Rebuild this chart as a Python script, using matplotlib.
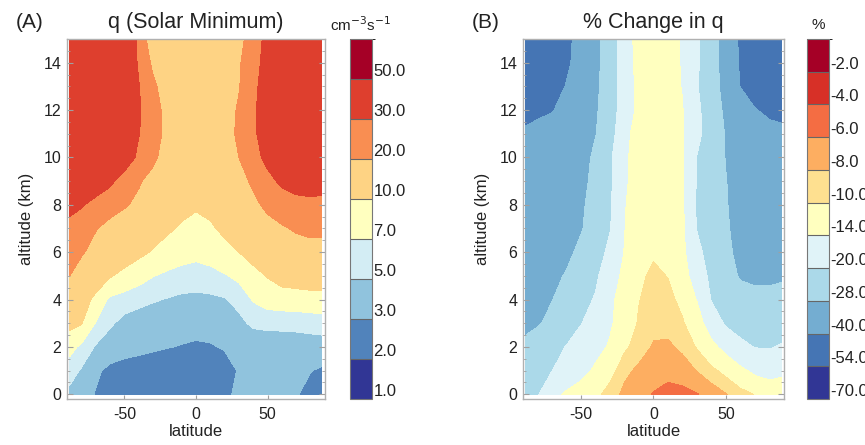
import numpy as np
import matplotlib.pyplot as plt
from matplotlib.colors import ListedColormap, BoundaryNorm
from matplotlib.ticker import MultipleLocator

plt.rcParams['font.family'] = ['Liberation Sans', 'DejaVu Sans']
plt.rcParams['axes.unicode_minus'] = False

# grid: latitude (deg) and altitude (km)
lat = [-88, -80, -70, -60, -50, -40, -30, -20, -10, 0, 10, 20, 30, 40, 50, 60, 70, 80, 88]
alt = [0, 1, 2, 3, 4, 5, 6, 7, 8, 9, 10, 11, 12, 13, 14, 15]

# ionization rate q at solar minimum (cm^-3 s^-1), rows from 0 km upward
q_min = [
    [4.5, 3.8, 2.9, 2.5, 2.3, 2.2, 2.15, 2.1, 2.1, 2.15, 2.3, 2.8, 3.2, 3.3, 3.3, 3.2, 3.1, 2.6, 2.4],
    [5.8, 4.8, 3.3, 2.6, 2.4, 2.3, 2.25, 2.2, 2.2, 2.2, 2.3, 2.5, 3.1, 3.4, 3.4, 3.4, 3.3, 3.05, 2.8],
    [7.8, 6.5, 4.8, 4.0, 3.6, 3.4, 3.2, 3.05, 2.95, 2.85, 2.9, 3.1, 3.4, 3.6, 3.7, 3.8, 3.8, 3.9, 4.0],
    [11, 10.2, 6.9, 5.3, 4.4, 4.0, 3.8, 3.6, 3.4, 3.4, 3.5, 3.8, 4.5, 5.4, 5.6, 5.6, 5.7, 5.9, 6],
    [13, 12, 9, 6.5, 6, 5.6, 5.2, 4.9, 4.6, 4.5, 4.6, 4.85, 5.6, 7.2, 8, 8.3, 8.3, 8.4, 8.5],
    [20, 16, 12.5, 10.3, 9, 8, 7.1, 6.5, 6.2, 6.1, 6.3, 6.8, 7.6, 8.8, 10.2, 11.5, 12, 12.5, 12.5],
    [23, 21, 17, 14, 12, 10.8, 9.7, 8.8, 8, 7.6, 8, 8.8, 10, 11.5, 13.5, 15, 16, 17, 17],
    [27, 24, 20.5, 17, 15, 13, 11.5, 10.5, 9.6, 8.8, 9.5, 10.8, 13, 15, 17, 19, 21, 22, 22],
    [33, 31, 27, 24, 21, 18, 15, 12.5, 11, 10.5, 11, 12.5, 15, 18, 22, 25, 27, 28, 28],
    [38, 38, 36, 32, 26, 21, 17, 13.5, 11.5, 11, 11.5, 13.5, 17, 21.5, 27, 32, 34, 34, 33],
    [42, 44, 44, 41, 36, 28, 22, 16, 12.5, 12, 12.5, 15, 20, 26, 33, 40, 43, 43, 41],
    [44, 46, 46, 44, 40, 30.5, 24, 17.5, 13, 12, 13, 16.5, 21.5, 28, 36, 44, 46, 46, 44],
    [45, 47, 47, 45, 41, 31, 24, 17, 13, 12.5, 13, 16, 21, 28, 37, 45, 47, 47, 45],
    [44, 46, 46, 44, 40, 30.5, 22, 15, 13, 12.5, 13, 15, 19.5, 27, 36, 44, 46, 46, 44],
    [42, 44, 44, 42, 38, 29, 18, 14, 13, 13, 13, 14, 19, 26, 34, 42, 44, 44, 42],
    [40, 42, 42, 41, 40, 28, 13, 13.5, 13.5, 13.5, 13.5, 14.5, 17, 25, 33, 40, 42, 42, 40],
]

# percent change in q, solar minimum to maximum
q_change = [
    [-22, -20.5, -15.5, -13.3, -12, -10.7, -9, -7.5, -6.5, -5.9, -5.5, -5.5, -5.9, -6.8, -7.9, -9, -10.1, -11, -11.5],
    [-23.5, -22, -20.1, -17.5, -15.5, -13.3, -11, -8.5, -7.6, -6.8, -6.5, -6.9, -8.1, -9.4, -10.8, -13, -15, -16, -15],
    [-26, -24, -21.5, -19.8, -17.5, -15.5, -13.5, -10.5, -8.9, -7.8, -7.6, -8.5, -10.2, -12.8, -15.5, -18.5, -20.2, -20.4, -19.5],
    [-30, -28.8, -26, -22.5, -20.2, -17.5, -14.6, -11.8, -9.7, -8.6, -8.8, -9.7, -12, -16.5, -20.8, -22.5, -23.5, -23.5, -23],
    [-31, -29.5, -28.2, -25, -22, -19.5, -15, -12, -10.1, -8.8, -9.2, -10.8, -14.2, -20.3, -23.5, -25.5, -26, -26, -25.5],
    [-32, -31, -29.5, -27.5, -24.5, -21, -16.5, -12.8, -10.6, -9.4, -10.1, -12, -16.5, -21.5, -25.5, -28.6, -29.5, -29.5, -29],
    [-34, -33, -32, -29.5, -26.5, -23, -18.5, -13.8, -11.4, -10.4, -11, -12.8, -18.5, -22.5, -26.8, -29.5, -31.5, -32.5, -33],
    [-34, -33.5, -33, -31, -28.5, -25, -20.3, -14.1, -12.1, -11.1, -11.6, -13.1, -20.2, -23.5, -27.3, -30, -32, -33, -33.5],
    [-34.5, -34, -33.5, -32, -29, -25.5, -20.8, -14.2, -12.4, -11.5, -11.9, -13.3, -20.8, -24, -27.6, -30.5, -32.5, -33.5, -34],
    [-35, -34.5, -34, -32.5, -30, -26, -21, -14.5, -12.6, -11.6, -12, -13.5, -20.3, -24, -27.8, -31, -33.5, -34.5, -35],
    [-36, -35.5, -35, -33.5, -31, -26.5, -21, -14.5, -12.8, -11.7, -12.2, -13.6, -20.2, -24, -28.3, -32, -35, -36, -36],
    [-38, -37, -36, -34.5, -32, -28.3, -23, -14.7, -13, -11.8, -12.3, -13.6, -18.3, -23.5, -28.5, -33, -36, -37, -37.5],
    [-44, -42, -40.5, -37, -33.5, -29, -23.5, -16.5, -13, -11.8, -12.4, -13.8, -18.5, -24, -29.5, -34, -39.5, -42, -43],
    [-49, -48, -44, -39.5, -35, -29.5, -24, -16.5, -12.8, -11.7, -12.3, -14.2, -19.5, -25, -30.5, -40.3, -45, -48, -49],
    [-50, -49, -46, -41.5, -36.5, -30, -24, -16.3, -12.7, -11.6, -12.2, -14.4, -19, -25, -31, -41.5, -46, -49, -50],
    [-50, -49, -46, -42, -37, -30, -24, -16, -12.5, -11.5, -12, -14.5, -19, -25, -31, -42, -46, -49, -50],
]

levels_q = [1, 2, 3, 5, 7, 10, 20, 30, 50, 70]
levels_pct = [-70, -54, -40, -28, -20, -14, -10, -8, -6, -4, -2, 0]

fig = plt.figure(figsize=(8.65, 4.45), dpi=100)
axA = fig.add_axes([0.0775, 0.1034, 0.298, 0.809])
caxA = fig.add_axes([0.4046, 0.1034, 0.0254, 0.809])
axB = fig.add_axes([0.6046, 0.1034, 0.3017, 0.809])
caxB = fig.add_axes([0.933, 0.1034, 0.0254, 0.809])


def panel(ax, cax, field, levels, title, letter, unit):
    nb = len(levels) - 1
    base = plt.get_cmap('RdYlBu_r', nb)
    cmap = ListedColormap([base(i) for i in range(nb)])
    norm = BoundaryNorm(levels, nb)
    cs = ax.contourf(lat, alt, np.array(field), levels=levels, cmap=cmap, norm=norm)

    ax.set_xlim(-90, 90)
    ax.set_ylim(-0.2, 15)
    ax.set_xticks([-50, 0, 50])
    ax.set_yticks(range(0, 15, 2))
    ax.yaxis.set_minor_locator(MultipleLocator(0.5))
    ax.tick_params(which='both', direction='in', left=True, right=True,
                   color='#a0a0a0', labelcolor='#222222', labelsize=11.5)
    ax.tick_params(axis='x', which='major', length=3, pad=6)
    ax.tick_params(axis='y', which='major', length=4, pad=4)
    ax.tick_params(axis='y', which='minor', length=2.5)
    for s in ax.spines.values():
        s.set_color('#b0b0b0')
        s.set_linewidth(1.0)
    ax.set_xlabel('latitude', fontsize=12, color='#222222', labelpad=1)
    ax.set_ylabel('altitude (km)', fontsize=12, color='#222222', labelpad=7)
    ax.set_title(title, fontsize=15.5, color='#222222', pad=8)

    cb = fig.colorbar(cs, cax=cax, ticks=levels[:-1], drawedges=True, format='%.1f')
    cb.outline.set_edgecolor('#777777')
    cb.outline.set_linewidth(0.8)
    cb.dividers.set_color('#666666')
    cb.dividers.set_linewidth(0.8)
    cax.tick_params(length=0, pad=1, labelsize=12, labelcolor='#222222')
    for t in cax.get_yticklabels():
        t.set_va('bottom')

    pos = ax.get_position()
    cpos = cax.get_position()
    fig.text(pos.x0 - 0.059, 1 - 22 / 445, letter, fontsize=15, color='#222222', va='center')
    fig.text((cpos.x0 + cpos.x1) / 2, 1 - 25 / 445, unit, fontsize=11,
             color='#222222', ha='center', va='center')


panel(axA, caxA, q_min, levels_q, 'q (Solar Minimum)', '(A)', r'cm$^{-3}$s$^{-1}$')
panel(axB, caxB, q_change, levels_pct, '% Change in q', '(B)', '%')

fig.savefig('out.png', dpi=100)
